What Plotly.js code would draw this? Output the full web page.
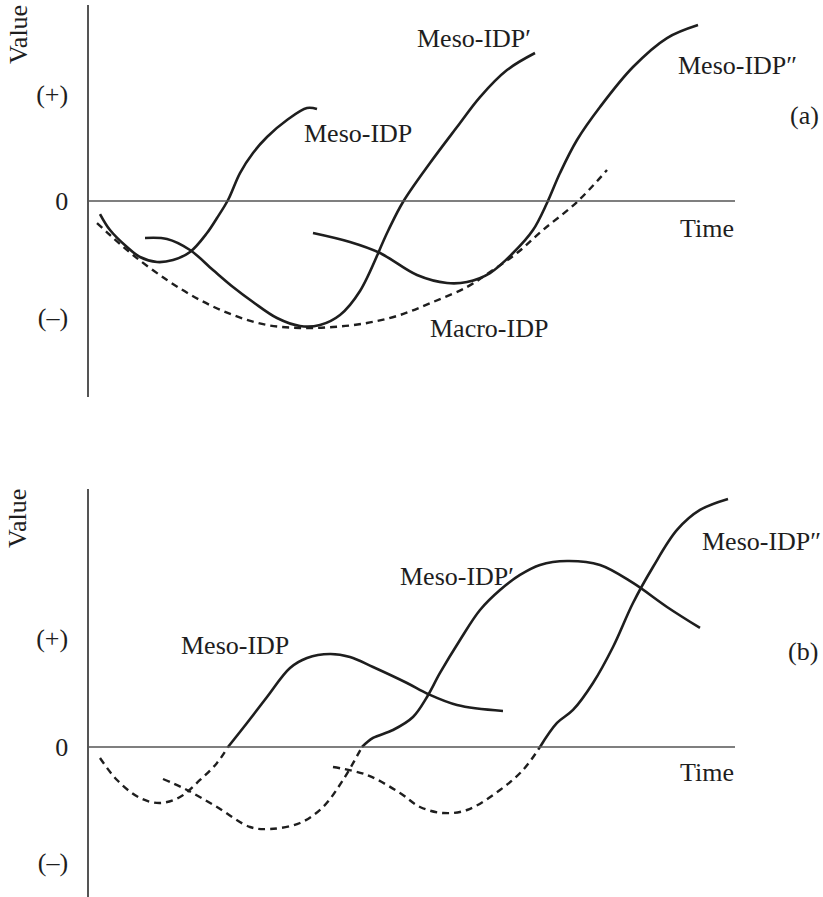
<!DOCTYPE html>
<html>
<head>
<meta charset="utf-8">
<script src="https://cdn.plot.ly/plotly-3.0.1.min.js"></script>
<style>html,body{margin:0;padding:0;background:#fff}</style>
</head>
<body>
<div id="chart" style="width:823px;height:897px"></div>
<script>
// ---------- Panel (a) ----------
const aMesoX  = [1.1,2.1,3.8,5.1,6.8,8.4,10.1,11.8,12.8,13.9,15.1,16.4,17.8,19.8,21.8,22.8];
const aMesoY  = [-1.3,-2.9,-4.6,-5.6,-6.1,-5.9,-5.1,-3.2,-1.7,0.1,2.8,4.8,6.4,8.1,9.3,9.2];
const aMeso1X = [5.6,7.8,10.1,12.4,14.4,16.4,18.8,21.1,23.1,25.1,27.1,29.9,31.4,34.1,36.8,39.1,41.8,44.6];
const aMeso1Y = [-3.7,-3.8,-4.9,-6.9,-8.6,-10.1,-11.7,-12.5,-12.4,-11.4,-9.0,-3.0,-0.1,3.8,7.4,10.4,13.1,14.8];
const aMeso2X = [22.4,26.1,29.1,32.8,35.8,37.8,40.1,42.4,44.4,45.8,47.1,48.8,51.1,54.4,57.8,60.9];
const aMeso2Y = [-3.2,-4.1,-5.2,-7.4,-8.2,-8.1,-7.2,-5.2,-2.9,-0.2,2.8,6.1,9.4,13.4,16.3,17.6];
const aMacroX = [0.8,2.1,4.4,7.8,11.1,14.4,17.8,21.1,24.4,27.8,31.1,34.4,37.8,40.1,42.8,45.4,48.8,51.8];
const aMacroY = [-2.2,-3.4,-5.4,-7.9,-9.9,-11.4,-12.4,-12.7,-12.6,-12.2,-11.4,-10.1,-8.6,-7.1,-5.2,-2.9,-0.1,3.1];

// ---------- Panel (b) ----------
const bMesoDashX  = [1.1,2.8,5.1,7.1,9.1,11.1,12.8,13.9];
const bMesoDashY  = [-1.1,-3.3,-5.1,-5.6,-5.0,-3.3,-1.6,0];
const bMesoX      = [13.9,15.8,17.8,20.1,21.8,24.1,26.1,28.4,31.8,33.9,36.8,41.4];
const bMesoY      = [0,2.4,5.0,7.9,8.9,9.3,9.0,8.0,6.4,5.3,4.2,3.6];
const bMeso1DashX = [7.4,9.8,12.8,16.1,18.1,21.1,23.4,25.4,27.3];
const bMeso1DashY = [-3.2,-4.3,-6.0,-8.0,-8.2,-7.6,-6.0,-3.3,0];
const bMeso1X     = [27.3,28.4,30.4,32.4,33.8,35.1,37.1,39.1,41.1,43.1,45.1,47.8,51.1,54.4,57.8,61.1];
const bMeso1Y     = [0,0.9,1.7,3.0,5.0,7.4,10.7,13.7,15.7,17.2,18.2,18.6,18.2,16.4,14.0,11.9];
const bMeso2DashX = [24.4,27.8,31.1,33.1,35.4,37.8,41.1,43.4,45.1];
const bMeso2DashY = [-2.0,-2.8,-4.6,-6.0,-6.6,-6.3,-4.3,-2.3,0];
const bMeso2X     = [45.1,46.8,48.4,50.4,52.4,54.4,56.4,58.8,61.1,63.9];
const bMeso2Y     = [0,2.4,3.7,6.4,10.0,14.4,18.0,21.7,23.7,24.8];

const tickVals_a = [10.7, 0, -11.6];
const tickVals_b = [10.9, 0, -11.5];
const tickText = ['(+)', '0', '(\u2013)'];

const FONT = '"Liberation Serif", "Times New Roman", serif';
const INK = '#1e1e1e';
const AXIS = '#555555';

function solid(x, y, xa, ya) {
  return {x, y, xaxis: xa, yaxis: ya, type: 'scatter', mode: 'lines',
    line: {color: INK, width: 2.6, shape: 'spline', smoothing: 1}, hoverinfo: 'skip', showlegend: false};
}
function dashed(x, y, xa, ya) {
  return {x, y, xaxis: xa, yaxis: ya, type: 'scatter', mode: 'lines',
    line: {color: INK, width: 2.4, shape: 'spline', smoothing: 1, dash: '7px,5px'}, hoverinfo: 'skip', showlegend: false};
}

const data = [
  solid(aMesoX, aMesoY, 'x', 'y'),
  solid(aMeso1X, aMeso1Y, 'x', 'y'),
  solid(aMeso2X, aMeso2Y, 'x', 'y'),
  dashed(aMacroX, aMacroY, 'x', 'y'),
  dashed(bMesoDashX, bMesoDashY, 'x2', 'y2'),
  solid(bMesoX, bMesoY, 'x2', 'y2'),
  dashed(bMeso1DashX, bMeso1DashY, 'x2', 'y2'),
  solid(bMeso1X, bMeso1Y, 'x2', 'y2'),
  dashed(bMeso2DashX, bMeso2DashY, 'x2', 'y2'),
  solid(bMeso2X, bMeso2Y, 'x2', 'y2')
];

const xRange = [0, 73.4];
function xax(anchor) {
  return {range: xRange, domain: [0, 1], anchor, showline: false, showgrid: false, zeroline: false,
    showticklabels: false, ticks: '', fixedrange: true};
}
function yax(anchor, domain, range, tv) {
  return {domain, range, anchor, showline: true, linecolor: AXIS, linewidth: 1.6, mirror: false,
    showgrid: false, zeroline: false, tickmode: 'array', tickvals: tv, ticktext: tickText,
    ticks: 'outside', ticklen: 14, tickcolor: 'rgba(0,0,0,0)',
    tickfont: {family: FONT, size: 26, color: INK}, fixedrange: true};
}

function ann(text, x, y, xref, yref, extra) {
  return Object.assign({text, x, y, xref, yref, showarrow: false, xanchor: 'center', yanchor: 'middle',
    font: {family: FONT, size: 26, color: INK}}, extra || {});
}

const layout = {
  width: 823, height: 897,
  margin: {l: 89, r: 0, t: 0, b: 0},
  paper_bgcolor: '#ffffff', plot_bgcolor: '#ffffff',
  showlegend: false,
  xaxis: xax('y'),
  yaxis: yax('x', [0.5574, 0.9944], [-19.6, 19.6], tickVals_a),
  xaxis2: xax('y2'),
  yaxis2: yax('x2', [0, 0.4549], [-15.0, 25.8], tickVals_b),
  shapes: [
    {type: 'line', xref: 'x', yref: 'y', x0: 0, x1: 64.6, y0: 0, y1: 0, line: {color: AXIS, width: 1.6}},
    {type: 'line', xref: 'x2', yref: 'y2', x0: 0, x1: 64.6, y0: 0, y1: 0, line: {color: AXIS, width: 1.6}}
  ],
  annotations: [
    ann('Meso-IDP', 26.9, 6.8, 'x', 'y'),
    ann('Meso-IDP\u2032', 38.5, 16.3, 'x', 'y'),
    ann('Meso-IDP\u2033', 64.8, 13.6, 'x', 'y'),
    ann('(a)', 71.5, 8.6, 'x', 'y'),
    ann('Time', 61.8, -2.7, 'x', 'y'),
    ann('Macro-IDP', 40.0, -12.7, 'x', 'y'),
    ann('Value', -0.0967, 16.6, 'paper', 'y', {textangle: -90}),
    ann('Meso-IDP', 14.6, 10.1, 'x2', 'y2'),
    ann('Meso-IDP\u2032', 36.8, 17.0, 'x2', 'y2'),
    ann('Meso-IDP\u2033', 67.2, 20.5, 'x2', 'y2'),
    ann('(b)', 71.4, 9.5, 'x2', 'y2'),
    ann('Time', 61.8, -2.6, 'x2', 'y2'),
    ann('Value', -0.0967, 22.8, 'paper', 'y2', {textangle: -90})
  ]
};

Plotly.newPlot('chart', data, layout, {staticPlot: true, displayModeBar: false});
</script>
</body>
</html>
